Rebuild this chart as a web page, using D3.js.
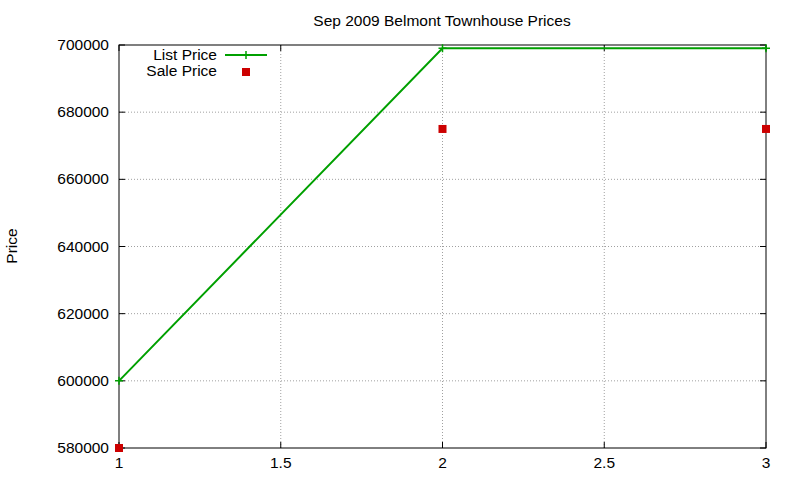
<!DOCTYPE html>
<html><head><meta charset="utf-8">
<script src="https://cdn.jsdelivr.net/npm/d3@7"></script>
<style>body{margin:0;background:#fff}text{font-family:"Liberation Sans",Arial,sans-serif;font-size:15.5px;fill:#000}</style>
</head><body><svg id="c" width="800" height="480"></svg>
<script>
// data
const xValues = [1, 2, 3];
const listPrice = [600000, 699000, 699000];
const salePrice = [580000, 675000, 675000];
const xTicks = [1, 1.5, 2, 2.5, 3];
const yTicks = [580000, 600000, 620000, 640000, 660000, 680000, 700000];

const svg = d3.select('#c');
const m = { left: 119, right: 766, top: 45, bottom: 448 };
const x = d3.scaleLinear().domain([1, 3]).range([m.left, m.right]);
const y = d3.scaleLinear().domain([580000, 700000]).range([m.bottom, m.top]);

// grid
const grid = svg.append('g').attr('stroke', '#a0a0a0').attr('stroke-dasharray', '1,2').attr('stroke-width', 1);
xTicks.slice(1, -1).forEach(t => grid.append('line').attr('x1', x(t)).attr('x2', x(t)).attr('y1', m.top).attr('y2', m.bottom));
yTicks.slice(1, -1).forEach(t => grid.append('line').attr('x1', m.left).attr('x2', m.right).attr('y1', y(t)).attr('y2', y(t)));

// ticks, mirrored inward like gnuplot
const tk = svg.append('g').attr('stroke', '#000');
xTicks.forEach(t => {
  tk.append('line').attr('x1', x(t)).attr('x2', x(t)).attr('y1', m.bottom).attr('y2', m.bottom - 6);
  tk.append('line').attr('x1', x(t)).attr('x2', x(t)).attr('y1', m.top).attr('y2', m.top + 6);
  svg.append('text').attr('x', x(t)).attr('y', m.bottom + 20).attr('text-anchor', 'middle').text(t);
});
yTicks.forEach(t => {
  tk.append('line').attr('x1', m.left).attr('x2', m.left + 6).attr('y1', y(t)).attr('y2', y(t));
  tk.append('line').attr('x1', m.right).attr('x2', m.right - 6).attr('y1', y(t)).attr('y2', y(t));
  svg.append('text').attr('x', m.left - 10).attr('y', y(t) + 5).attr('text-anchor', 'end').text(t);
});
svg.append('rect').attr('x', m.left).attr('y', m.top).attr('width', m.right - m.left).attr('height', m.bottom - m.top)
  .attr('fill', 'none').attr('stroke', '#000');

svg.append('text').attr('x', 442).attr('y', 26).attr('text-anchor', 'middle').text('Sep 2009 Belmont Townhouse Prices');
svg.append('text').attr('transform', 'translate(17,246) rotate(-90)').attr('text-anchor', 'middle').text('Price');

const green = '#00a000', red = '#cc0000';
const plus = (g, cx, cy) => g.append('path').attr('d', `M${cx - 4},${cy}H${cx + 4}M${cx},${cy - 4}V${cy + 4}`)
  .attr('stroke', green).attr('stroke-width', 1.5);

svg.append('path').datum(xValues.map((d, i) => [d, listPrice[i]]))
  .attr('d', d3.line().x(d => x(d[0])).y(d => y(d[1])))
  .attr('fill', 'none').attr('stroke', green).attr('stroke-width', 2);
xValues.forEach((d, i) => plus(svg, x(d), y(listPrice[i])));
xValues.forEach((d, i) => svg.append('rect').attr('x', x(d) - 4).attr('y', y(salePrice[i]) - 4)
  .attr('width', 8).attr('height', 8).attr('fill', red));

// legend
svg.append('text').attr('x', 217).attr('y', 60).attr('text-anchor', 'end').text('List Price');
svg.append('line').attr('x1', 225).attr('x2', 267).attr('y1', 55).attr('y2', 55).attr('stroke', green).attr('stroke-width', 2);
plus(svg, 246, 55);
svg.append('text').attr('x', 217).attr('y', 76).attr('text-anchor', 'end').text('Sale Price');
svg.append('rect').attr('x', 242).attr('y', 68).attr('width', 8).attr('height', 8).attr('fill', red);
</script></body></html>
